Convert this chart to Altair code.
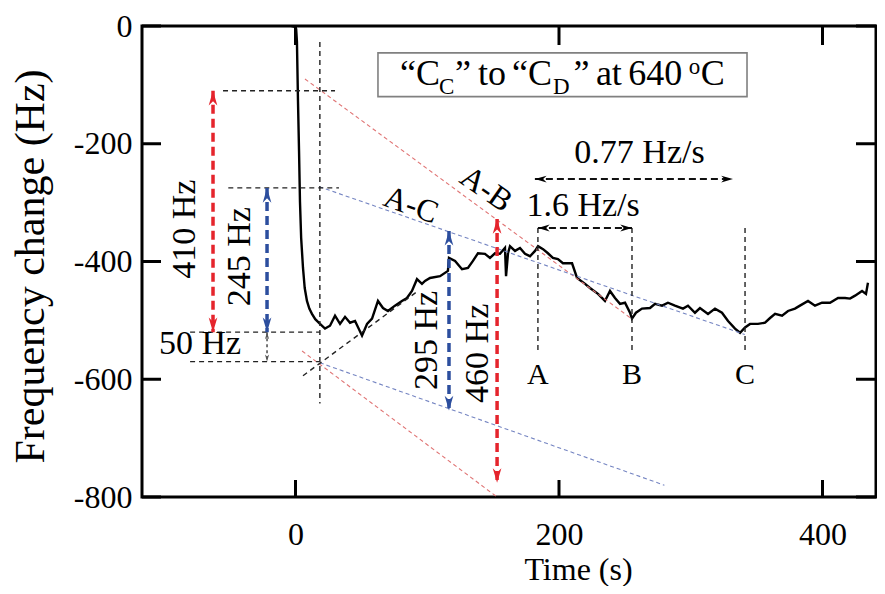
import altair as alt
import pandas as pd

FONT = "Liberation Serif"

# ---- measured curve (time in s, frequency change in Hz) ----
time_s = [-3, -1, 0.5, 1.1, 1.9, 2.7, 3.4, 4.3, 5.7, 7, 8.7, 10.5, 12.5, 15, 18.6, 22.4,
          26.2, 30.0, 33.8, 37.6, 41.4, 45.2, 50.5, 54.3, 58.1, 62.6,
          66.4, 70.2, 75.5, 80.8, 84.6, 88.4, 92.2, 96.0, 98.3, 102.1,
          109.7, 115.7, 116.5, 121.1, 126.4, 130.9, 134.7, 138.5, 143.8, 147.6,
          151.4, 155.2, 159.0, 159.8, 161.3, 162.8, 166.6, 170.4, 174.2, 178.0,
          181.8, 184.1, 187.9, 191.6, 195.4, 199.2, 203.0, 209.9, 213.7, 219.8,
          223.5, 229.6, 234.9, 238.7, 242.5, 246.3, 250.1, 253.9, 255.4, 258.4,
          263.0, 269.1, 272.9, 278.2, 282.7, 288.0, 294.1, 297.9, 303.2, 307.0,
          313.1, 318.4, 323.7, 328.3, 333.6, 337.4, 341.2, 345.0, 351.0, 356.4,
          360.2, 364.0, 369.3, 373.8, 379.1, 382.9, 389.0, 394.3, 399.6, 405.7,
          411.8, 417.1, 420.9, 424.7, 430.0, 433.0, 434.5]
freq_hz = [0, -1, -5, -27, -128, -213, -298, -360, -411, -445, -467, -480, -489, -498, -506, -514,
           -509, -492, -506, -494, -504, -501, -526, -506, -497, -467,
           -479, -484, -475, -467, -462, -450, -430, -438, -433, -428,
           -425, -416, -394, -399, -413, -411, -399, -386, -387, -394,
           -386, -387, -377, -425, -386, -374, -382, -377, -387, -391,
           -382, -374, -379, -386, -394, -396, -403, -403, -428, -438,
           -445, -455, -467, -450, -462, -472, -470, -487, -497, -487,
           -480, -479, -472, -475, -470, -475, -480, -475, -487, -479,
           -489, -480, -487, -501, -514, -521, -512, -506, -506, -504,
           -496, -489, -492, -484, -480, -475, -467, -475, -470, -470,
           -462, -462, -463, -458, -450, -455, -436]

X_DOM = [-116.5, 440.6]
Y_DOM = [-800, 0]
x_ticks = [0, 200, 400]
y_ticks = [0, -200, -400, -600, -800]

# ---- annotation geometry (data units) ----
guide_x = [18.5, -55, -51, -80, -80, 184, 255.4, 341.2, 5.7]
guide_y = [-27, -110, -275, -520, -570, -343, -343, -343, -594]
guide_x2 = [18.5, 30, 33, 18.5, 18.5, 184, 255.4, 341.2, 93]
guide_y2 = [-641, -110, -275, -520, -570, -555, -555, -555, -450]

harrow_x = [184, 181.7]
harrow_x2 = [255.4, 332]
harrow_y = [-343, -260]

red_thin = [(7.2, -90, 255, -497), (5, -552, 153, -800)]
blue_thin = [(18, -273, 341, -524), (18.5, -572, 280, -780)]
red_arrow = [(-62.6, -110, -520), (153, -328, -776)]
blue_arrow = [(-21.6, -275, -520), (116.5, -348, -653)]
gray_arrow = [(-21.6, -520, -570)]

RED = "#e5242c"
BLUE = "#2c4e9e"
GRAY = "#555555"
UP = "M0,0L0.5,1.7L0,1.2L-0.5,1.7Z"
DOWN = "M0,0L0.5,-1.7L0,-1.2L-0.5,-1.7Z"
LEFT = "M0,0L1.7,-0.5L1.2,0L1.7,0.5Z"
RIGHT = "M0,0L-1.7,-0.5L-1.2,0L-1.7,0.5Z"

label_text = ["50 Hz", "A", "B", "C", "1.6 Hz/s", "0.77 Hz/s", "A-B", "A-C",
              "410 Hz", "245 Hz", "295 Hz", "460 Hz"]
label_x = [-72.5, 184, 255.4, 341.2, 218.3, 261.1, 144.8, 87.7, -84, -42, 99.8, 138.5]
label_y = [-540, -592, -592, -592, -306, -215, -277, -304, -345, -392, -534, -556]
label_fs = [34, 30, 30, 30, 34, 34, 32, 32, 34, 34, 34, 34]
label_ang = [0, 0, 0, 0, 0, 0, 35, 20, 270, 270, 270, 270]

# box title "“C_C” to “C_D” at 640 °C", split in pieces (sub/superscripts smaller)
title_parts = ["\u201cC", "C", "\u201d", "to", "\u201cC", "D", "\u201d", "at", "640", "o", "C"]
title_x = [79.3, 109.0, 121.1, 138.5, 164.3, 195.4, 211.0, 228.0, 252.6, 298.4, 307.5]
title_y = [-99.8, -115, -99.8, -99.8, -99.8, -115, -99.8, -99.8, -99.8, -81, -99.8]
title_fs = [36, 23, 36, 36, 36, 23, 36, 36, 36, 23, 36]
box = dict(x=62.6, x2=342.7, y=-45.7, y2=-120)

W, H = 734, 471
xs = alt.Scale(domain=X_DOM, nice=False, zero=False)
ys = alt.Scale(domain=Y_DOM, nice=False, zero=False)


def ex(f="x"):
    return alt.X(f"{f}:Q", scale=xs)


def ey(f="y"):
    return alt.Y(f"{f}:Q", scale=ys)


curve_df = pd.DataFrame({"t": time_s, "f": freq_hz})
curve = alt.Chart(curve_df).mark_line(color="black", strokeWidth=2.4, clip=True).encode(
    x=alt.X("t:Q", scale=xs, axis=alt.Axis(
        values=x_ticks, title="Time (s)", grid=False, domain=False, ticks=False, tickSize=0,
        labelFont=FONT, labelFontSize=32, labelColor="black", labelPadding=37,
        labelBaseline="middle", labelFlush=False,
        titleFont=FONT, titleFontSize=32, titleFontWeight="normal", titleColor="black",
        titleX=436, titleY=82, titleAlign="center", titleBaseline="alphabetic")),
    y=alt.Y("f:Q", scale=ys, axis=alt.Axis(
        values=y_ticks, title="Frequency change (Hz)", grid=False, domain=False, ticks=False,
        tickSize=0, labelFont=FONT, labelFontSize=32, labelColor="black", labelPadding=10,
        labelFlush=False,
        labelExpr="datum.value == 0 ? '0' : '-' + format(-datum.value, 'd')",
        titleFont=FONT, titleFontSize=42, titleFontWeight="normal", titleColor="black",
        titleAngle=270, titleX=-112, titleY=240, titleAlign="center", titleBaseline="middle")),
    order="t:Q",
)

xt = pd.DataFrame({"t": x_ticks})
yt = pd.DataFrame({"v": y_ticks})
tick_b = alt.Chart(xt).mark_rule(color="black", strokeWidth=3).encode(
    x=ex("t"), y=alt.value(H), y2=alt.value(H - 17))
tick_t = alt.Chart(xt).mark_rule(color="black", strokeWidth=3).encode(
    x=ex("t"), y=alt.value(0), y2=alt.value(19))
tick_l = alt.Chart(yt).mark_rule(color="black", strokeWidth=3).encode(
    y=ey("v"), x=alt.value(0), x2=alt.value(19))
tick_r = alt.Chart(yt).mark_rule(color="black", strokeWidth=3).encode(
    y=ey("v"), x=alt.value(W), x2=alt.value(W - 20))


def seg_layer(rows, color, width, dash):
    df = pd.DataFrame(rows, columns=["x", "y", "x2", "y2"])
    return alt.Chart(df).mark_rule(color=color, strokeWidth=width, strokeDash=dash).encode(
        x=ex("x"), y=ey("y"), x2="x2:Q", y2="y2:Q")


guides = seg_layer(list(zip(guide_x, guide_y, guide_x2, guide_y2)), "#222222", 1.4, [5, 4])
harrows = seg_layer([(a, y, b, y) for a, b, y in zip(harrow_x, harrow_x2, harrow_y)],
                    "#111111", 2, [7, 4])
redthin = seg_layer(red_thin, "#e07575", 1.1, [4, 3])
bluethin = seg_layer(blue_thin, "#7585c2", 1.1, [4, 3])
redarr = seg_layer([(x, a, x, b) for x, a, b in red_arrow], RED, 3.5, [9, 5])
bluearr = seg_layer([(x, a, x, b) for x, a, b in blue_arrow], BLUE, 3.5, [9, 5])
grayarr = seg_layer([(x, a, x, b) for x, a, b in gray_arrow], GRAY, 1.6, [3, 3])

heads = []
for x, a, b in red_arrow:
    heads += [(x, a, UP, RED, 300), (x, b, DOWN, RED, 300)]
for x, a, b in blue_arrow:
    heads += [(x, a, UP, BLUE, 300), (x, b, DOWN, BLUE, 300)]
for x, a, b in gray_arrow:
    heads += [(x, a, UP, GRAY, 70), (x, b, DOWN, GRAY, 70)]
for a, b, y in zip(harrow_x, harrow_x2, harrow_y):
    heads += [(a, y, LEFT, "black", 190), (b, y, RIGHT, "black", 190)]
heads_df = pd.DataFrame(heads, columns=["x", "y", "shape", "color", "size"])
head_layer = alt.Chart(heads_df).mark_point(filled=True, opacity=1, strokeWidth=0).encode(
    x=ex("x"), y=ey("y"),
    shape=alt.Shape("shape:N", scale=None),
    color=alt.Color("color:N", scale=None),
    size=alt.Size("size:Q", scale=None))

lab_df = pd.DataFrame({"x": label_x, "y": label_y, "text": label_text,
                       "fs": label_fs, "ang": label_ang})
labels = alt.Chart(lab_df).mark_text(font=FONT, color="black", align="center",
                                     baseline="middle").encode(
    x=ex("x"), y=ey("y"), text="text:N",
    size=alt.Size("fs:Q", scale=None), angle=alt.Angle("ang:Q", scale=None))

box_df = pd.DataFrame([box])
box_layer = alt.Chart(box_df).mark_rect(fill="white", stroke="#808080", strokeWidth=1.6).encode(
    x=ex("x"), x2="x2:Q", y=ey("y"), y2="y2:Q")

tt_df = pd.DataFrame({"x": title_x, "y": title_y, "text": title_parts, "fs": title_fs})
title_layer = alt.Chart(tt_df).mark_text(font=FONT, color="black", align="left",
                                         baseline="alphabetic").encode(
    x=ex("x"), y=ey("y"), text="text:N", size=alt.Size("fs:Q", scale=None))

chart = alt.layer(
    curve, redthin, bluethin, guides, harrows, grayarr, redarr, bluearr, head_layer,
    box_layer, title_layer, labels, tick_b, tick_t, tick_l, tick_r,
).properties(
    width=W, height=H,
    background="white",
    autosize=alt.AutoSizeParams(type="none"),
    padding={"left": 134, "top": 18, "right": 1, "bottom": 89},
).configure_view(stroke="black", strokeWidth=3).configure_axis(
    labelFont=FONT, titleFont=FONT, labelColor="black", titleColor="black",
    titleFontWeight="normal")

chart.save("out.html", embed_options={"renderer": "svg", "actions": False})
